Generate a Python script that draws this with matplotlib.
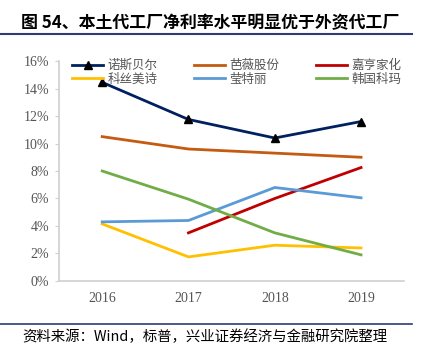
import numpy as np
import matplotlib.pyplot as plt
from matplotlib.lines import Line2D

plt.rcParams['font.family'] = ['Noto Sans CJK SC', 'DejaVu Sans']

years = ["2016", "2017", "2018", "2019"]
nuosi = [14.45, 11.75, 10.4, 11.6]
bawei = [10.5, 9.6, 9.3, 9.0]
jiaheng = [np.nan, 3.5, 6.0, 8.25]
yingteli = [4.3, 4.4, 6.8, 6.05]
kesi = [4.15, 1.75, 2.6, 2.4]
kema = [8.0, 5.95, 3.5, 1.9]

names = ["诺斯贝尔", "芭薇股份", "嘉亨家化", "科丝美诗", "莹特丽", "韩国科玛"]
colors = ["#002060", "#C55A11", "#C00000", "#FFC000", "#5B9BD5", "#70AD47"]
series = [nuosi, bawei, jiaheng, kesi, yingteli, kema]

fig = plt.figure(figsize=(4.25, 3.57), dpi=100)
ax = fig.add_axes([0.139, 0.213, 0.812, 0.616])

x = np.arange(len(years))
lines = {}
for name, vals, c in zip(names, series, colors):
    if name == "诺斯贝尔":
        ln, = ax.plot(x, vals, color=c, lw=2, marker="^", ms=6,
                      markerfacecolor="black", markeredgecolor="black")
    else:
        ln, = ax.plot(x, vals, color=c, lw=2)
    lines[name] = ln

ax.set_xlim(-0.5, 3.5)
ax.set_ylim(0, 16)
ax.set_xticks(x)
ax.set_xticklabels(years, family="Liberation Serif", fontsize=10, color="#555555")
ax.set_yticks(range(0, 17, 2))
ax.set_yticklabels([f"{v}%" for v in range(0, 17, 2)], family="Liberation Serif",
                   fontsize=10, color="#555555")
for s in ["top", "right"]:
    ax.spines[s].set_visible(False)
for s in ["left", "bottom"]:
    ax.spines[s].set_color("#D0D0D0")
    ax.spines[s].set_linewidth(1.2)
ax.tick_params(axis="y", length=3, color="#D0D0D0", pad=4)
ax.tick_params(axis="x", length=0, pad=8)

# legend fills by column, so interleave the two rows
order = ["诺斯贝尔", "科丝美诗", "芭薇股份", "莹特丽", "嘉亨家化", "韩国科玛"]
leg = ax.legend([lines[n] for n in order], order, ncol=3, loc="upper left",
                bbox_to_anchor=(0.005, 1.06), frameon=False, fontsize=9,
                handlelength=2.5, handletextpad=0.35, columnspacing=2.9,
                labelspacing=0.05)
for t in leg.get_texts():
    t.set_color("#555555")

fig.text(0.05, 0.935, "图 54、本土代工厂净利率水平明显优于外资代工厂",
         fontsize=12.2, fontweight="bold", color="black", va="center")
fig.add_artist(Line2D([0.0, 0.97], [0.905, 0.905], color="#2E3B78", lw=1.5))
fig.add_artist(Line2D([0.0, 0.97], [0.093, 0.093], color="#2E3B78", lw=1.2))
fig.text(0.053, 0.056, "资料来源：Wind，标普，兴业证券经济与金融研究院整理",
         fontsize=10.4, color="black", va="center")

fig.savefig("out.png", dpi=100)
